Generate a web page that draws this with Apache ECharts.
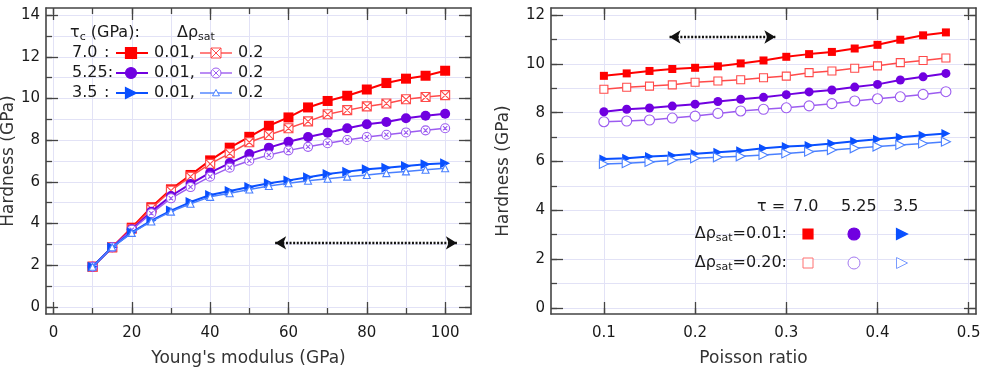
<!DOCTYPE html>
<html>
<head>
<meta charset="utf-8">
<script src="https://cdn.jsdelivr.net/npm/echarts@6/dist/echarts.min.js"></script>
<style>
html, body { margin: 0; padding: 0; background: #fff; }
#chart { width: 987px; height: 374px; }
</style>
</head>
<body>
<div id="chart"></div>
<script>
// ---- left panel: hardness vs Young's modulus ----
var youngModulus = [10, 15, 20, 25, 30, 35, 40, 45, 50, 55, 60, 65, 70, 75, 80, 85, 90, 95, 100];
var hardY_70_001  = [1.93, 2.86, 3.80, 4.78, 5.64, 6.33, 7.03, 7.64, 8.16, 8.69, 9.09, 9.57, 9.88, 10.13, 10.43, 10.74, 10.95, 11.09, 11.33];
var hardY_70_020  = [1.93, 2.86, 3.75, 4.72, 5.58, 6.25, 6.86, 7.37, 7.90, 8.25, 8.57, 8.90, 9.24, 9.44, 9.62, 9.76, 9.96, 10.07, 10.16];
var hardY_525_001 = [1.93, 2.86, 3.72, 4.57, 5.32, 5.90, 6.44, 6.90, 7.33, 7.64, 7.92, 8.15, 8.36, 8.57, 8.76, 8.87, 9.05, 9.17, 9.27];
var hardY_525_020 = [1.93, 2.86, 3.70, 4.49, 5.21, 5.75, 6.25, 6.68, 7.01, 7.29, 7.51, 7.68, 7.85, 8.01, 8.15, 8.26, 8.37, 8.47, 8.57];
var hardY_35_001  = [1.93, 2.86, 3.58, 4.14, 4.62, 5.03, 5.37, 5.56, 5.75, 5.93, 6.07, 6.22, 6.38, 6.49, 6.60, 6.68, 6.76, 6.84, 6.89];
var hardY_35_020  = [1.93, 2.86, 3.55, 4.10, 4.57, 4.95, 5.28, 5.45, 5.63, 5.80, 5.93, 6.05, 6.15, 6.25, 6.33, 6.42, 6.50, 6.58, 6.65];

// ---- right panel: hardness vs Poisson ratio ----
var poissonRatio = [0.1, 0.125, 0.15, 0.175, 0.2, 0.225, 0.25, 0.275, 0.3, 0.325, 0.35, 0.375, 0.4, 0.425, 0.45, 0.475];
var hardP_70_001  = [9.51, 9.61, 9.71, 9.79, 9.84, 9.90, 10.02, 10.14, 10.29, 10.40, 10.49, 10.63, 10.78, 10.99, 11.17, 11.29];
var hardP_70_020  = [8.96, 9.04, 9.09, 9.14, 9.25, 9.30, 9.35, 9.43, 9.50, 9.64, 9.71, 9.82, 9.92, 10.05, 10.14, 10.24];
var hardP_525_001 = [8.04, 8.14, 8.19, 8.27, 8.35, 8.46, 8.55, 8.63, 8.74, 8.85, 8.93, 9.05, 9.16, 9.34, 9.47, 9.61];
var hardP_525_020 = [7.63, 7.66, 7.70, 7.78, 7.86, 7.97, 8.07, 8.14, 8.20, 8.28, 8.37, 8.48, 8.57, 8.65, 8.75, 8.86];
var hardP_35_001  = [6.10, 6.13, 6.20, 6.25, 6.32, 6.38, 6.44, 6.54, 6.61, 6.66, 6.74, 6.83, 6.91, 6.99, 7.08, 7.15];
var hardP_35_020  = [5.90, 5.93, 5.98, 6.05, 6.13, 6.17, 6.21, 6.27, 6.33, 6.40, 6.47, 6.54, 6.61, 6.68, 6.74, 6.81];

// ticks and labels
var leftXTicks  = [0, 10, 20, 30, 40, 50, 60, 70, 80, 90, 100];
var leftXLabels = [0, 20, 40, 60, 80, 100];
var leftYTicks  = [0, 1, 2, 3, 4, 5, 6, 7, 8, 9, 10, 11, 12, 13, 14];
var leftYLabels = [0, 2, 4, 6, 8, 10, 12, 14];
var rightXTicks  = [0.1, 0.2, 0.3, 0.4, 0.5];
var rightXLabels = [0.1, 0.2, 0.3, 0.4, 0.5];
var rightYTicks  = [0, 1, 2, 3, 4, 5, 6, 7, 8, 9, 10, 11, 12];
var rightYLabels = [0, 2, 4, 6, 8, 10, 12];

// dotted double arrows (data coords)
var leftArrow  = [[56.6, 3.07], [103, 3.07]];
var rightArrow = [[0.172, 11.1], [0.288, 11.1]];

var FONT = 'DejaVu Sans';
var TXT = '#1a1a1a';
var FRAME = '#444';
var GRIDC = '#e2e2f6';
var RED = '#ff0000', RED_L = '#ff4a4a';
var PUR = '#7000e0', PUR_L = '#9c5cf0';
var BLU = '#0a50ff', BLU_L = '#4a80ff';

var SYM_XSQUARE = 'path://M0,0L10,0L10,10L0,10Z M0,0L10,10 M10,0L0,10';
var SYM_XCIRCLE = 'path://M10,5A5,5,0,1,1,0,5A5,5,0,1,1,10,5Z M2.6,2.6L7.4,7.4 M7.4,2.6L2.6,7.4';
var SYM_TRIR = 'path://M0,0L10,5L0,10Z';

function axisSet(dim, grid, min, max, ticks, labels, splitN, name, nameGap, namePad) {
  var pos = dim === 'x' ? ['bottom', 'top'] : ['left', 'right'];
  var line = { show: true, onZero: false, lineStyle: { color: FRAME, width: 1.6 } };
  var noLine = { show: false, onZero: false };
  var base = { type: 'value', gridIndex: grid, min: min, max: max, splitLine: { show: false } };
  var main = Object.assign({}, base, {
    position: pos[0], axisLine: line,
    axisTick: { inside: true, length: 12, customValues: labels, lineStyle: { color: FRAME, width: 1.3 } },
    axisLabel: { customValues: labels, margin: dim === 'x' ? 12 : 6, fontSize: 15, color: TXT, fontFamily: FONT },
    name: name, nameLocation: 'middle', nameGap: nameGap,
    nameTextStyle: { fontSize: 17, color: '#333', fontFamily: FONT, padding: namePad || 0 }
  });
  var mirror = Object.assign({}, base, {
    position: pos[1], axisLine: line,
    axisTick: { inside: true, length: 12, customValues: labels, lineStyle: { color: FRAME, width: 1.3 } },
    axisLabel: { show: false }
  });
  // short ticks + light grid lines
  var minorA = Object.assign({}, base, {
    position: pos[0], axisLine: noLine, splitNumber: splitN,
    axisTick: { inside: true, length: 6, customValues: ticks, lineStyle: { color: FRAME, width: 1.3 } },
    axisLabel: { show: false },
    splitLine: { show: true, lineStyle: { color: GRIDC, width: 1 } }
  });
  var minorB = Object.assign({}, base, {
    position: pos[1], axisLine: noLine,
    axisTick: { inside: true, length: 6, customValues: ticks, lineStyle: { color: FRAME, width: 1.3 } },
    axisLabel: { show: false }
  });
  return [main, mirror, minorA, minorB];
}

function lineSeries(name, xs, ys, axisIdx, sym, size, color, lineColor, lineW, filled, z) {
  return {
    name: name, type: 'line', xAxisIndex: axisIdx, yAxisIndex: axisIdx,
    data: xs.map(function (x, i) { return [x, ys[i]]; }),
    symbol: sym, symbolSize: size, showSymbol: true, showAllSymbol: true,
    lineStyle: { color: lineColor, width: lineW },
    itemStyle: filled ? { color: color } : { color: '#fff', borderColor: color, borderWidth: 1.1 },
    animation: false, silent: true, z: z
  };
}

function arrowLine(pts) {
  return {
    silent: true, animation: false,
    symbol: ['arrow', 'arrow'], symbolSize: [10, 11],
    label: { show: false },
    lineStyle: { color: '#111', type: [2, 1.6], width: 2.4 },
    data: [[{ coord: pts[0] }, { coord: pts[1] }]]
  };
}

// legend helpers (graphic)
function mark(kind, cx, cy, s, color, filled, lw) {
  var h = s / 2;
  var st = { fill: filled ? color : '#fff', stroke: color, lineWidth: lw || 1.2 };
  var ls = { stroke: color, lineWidth: lw || 1.1 };
  var d = h * 0.55;
  if (kind === 'square') return [{ type: 'rect', shape: { x: cx - h, y: cy - h, width: s, height: s }, style: st, z: 100 }];
  if (kind === 'xsquare') return [
    { type: 'rect', shape: { x: cx - h, y: cy - h, width: s, height: s }, style: st, z: 100 },
    { type: 'line', shape: { x1: cx - h, y1: cy - h, x2: cx + h, y2: cy + h }, style: ls, z: 101 },
    { type: 'line', shape: { x1: cx + h, y1: cy - h, x2: cx - h, y2: cy + h }, style: ls, z: 101 }];
  if (kind === 'circle') return [{ type: 'circle', shape: { cx: cx, cy: cy, r: h }, style: st, z: 100 }];
  if (kind === 'xcircle') return [
    { type: 'circle', shape: { cx: cx, cy: cy, r: h }, style: st, z: 100 },
    { type: 'line', shape: { x1: cx - d, y1: cy - d, x2: cx + d, y2: cy + d }, style: ls, z: 101 },
    { type: 'line', shape: { x1: cx + d, y1: cy - d, x2: cx - d, y2: cy + d }, style: ls, z: 101 }];
  if (kind === 'triright') return [{ type: 'polygon', shape: { points: [[cx - h, cy - h], [cx + h, cy], [cx - h, cy + h]] }, style: st, z: 100 }];
  return [{ type: 'polygon', shape: { points: [[cx, cy - h], [cx + h, cy + h * 0.8], [cx - h, cy + h * 0.8]] }, style: st, z: 100 }];
}
function seg(x1, x2, y, color, w) {
  return { type: 'line', shape: { x1: x1, y1: y, x2: x2, y2: y }, style: { stroke: color, lineWidth: w }, z: 99 };
}
var RICH = {
  sub: { fontSize: 11, fontFamily: FONT, fill: TXT, verticalAlign: 'bottom', lineHeight: 9 },
  m: { fontSize: 16, fontFamily: FONT, fill: TXT, lineHeight: 20 }
};
function txt(x, y, text, align) {
  return { type: 'text', x: x, y: y, z: 100,
    style: { text: text, fill: TXT, fontSize: 16, fontFamily: FONT, align: align || 'left', verticalAlign: 'middle', rich: RICH } };
}

var graphics = [];
// left legend
graphics.push(txt(70, 33, '{m|τ}{sub|c}{m| (GPa):}'));
graphics.push(txt(177, 33, '{m|Δρ}{sub|sat}'));
var legRows = [
  { y: 53, lab: '7.0', colon: true, c: RED, cl: RED_L, k1: 'square', k2: 'xsquare', s2: 10 },
  { y: 73, lab: '5.25:', colon: false, c: PUR, cl: PUR_L, k1: 'circle', k2: 'xcircle', s2: 10 },
  { y: 93, lab: '3.5', colon: true, c: BLU, cl: BLU_L, k1: 'triright', k2: 'triup', s2: 7 }
];
legRows.forEach(function (r) {
  graphics.push(txt(72, r.y, r.lab));
  if (r.colon) graphics.push(txt(104, r.y, ':'));
  graphics.push(seg(116, 148, r.y, r.c, 2));
  graphics = graphics.concat(mark(r.k1, 131, r.y, 11, r.c, true));
  graphics.push(txt(154, r.y, '0.01,'));
  graphics.push(seg(200, 232, r.y, r.cl, 1.4));
  graphics = graphics.concat(mark(r.k2, 216, r.y, r.s2, r.cl, false, 1));
  graphics.push(txt(238, r.y, '0.2'));
});
// right legend
graphics.push(txt(757, 207, 'τ ='));
graphics.push(txt(793, 207, '7.0'));
graphics.push(txt(841, 207, '5.25'));
graphics.push(txt(893, 207, '3.5'));
graphics.push(txt(787, 234, '{m|Δρ}{sub|sat}{m|=0.01:}', 'right'));
graphics.push(txt(787, 263, '{m|Δρ}{sub|sat}{m|=0.20:}', 'right'));
graphics = graphics.concat(mark('square', 808, 234, 10, RED, true));
graphics = graphics.concat(mark('circle', 854, 234, 12, PUR, true));
graphics = graphics.concat(mark('triright', 902, 234, 11, BLU, true));
graphics = graphics.concat(mark('square', 808, 263, 10, '#ff7070', false, 1));
graphics = graphics.concat(mark('circle', 854, 263, 12, '#a47af0', false, 1));
graphics = graphics.concat(mark('triright', 902, 263, 11, '#7a9cff', false, 1));

var xAxes = axisSet('x', 0, -1.9, 106.6, leftXTicks, leftXLabels, 5, "Young's modulus (GPa)", 36, [0, 20, 0, 0])
  .concat(axisSet('x', 1, 0.042, 0.508, rightXTicks, rightXLabels, 5, 'Poisson ratio', 36, [0, 20, 0, 0]));
var yAxes = axisSet('y', 0, -0.34, 14.34, leftYTicks, leftYLabels, 7, 'Hardness (GPa)', 24, 0)
  .concat(axisSet('y', 1, -0.25, 12.29, rightYTicks, rightYLabels, 6, 'Hardness (GPa)', 39, [0, 20, 0, 0]));

var series = [
  lineSeries('L 7.0 0.01', youngModulus, hardY_70_001, 0, 'rect', 10, RED, RED, 2, true, 2),
  lineSeries('L 7.0 0.2', youngModulus, hardY_70_020, 0, SYM_XSQUARE, 9, RED_L, RED_L, 1.5, false, 3),
  lineSeries('L 5.25 0.01', youngModulus, hardY_525_001, 0, 'circle', 10, PUR, PUR, 2, true, 4),
  lineSeries('L 5.25 0.2', youngModulus, hardY_525_020, 0, SYM_XCIRCLE, 9, PUR_L, PUR_L, 1.5, false, 5),
  lineSeries('L 3.5 0.01', youngModulus, hardY_35_001, 0, SYM_TRIR, 10, BLU, BLU, 2, true, 6),
  lineSeries('L 3.5 0.2', youngModulus, hardY_35_020, 0, 'triangle', 7, BLU_L, BLU_L, 1.5, false, 7),
  lineSeries('R 7.0 0.01', poissonRatio, hardP_70_001, 4, 'rect', 8, RED, RED, 2, true, 2),
  lineSeries('R 7.0 0.2', poissonRatio, hardP_70_020, 4, 'rect', 8, RED_L, RED_L, 1.5, false, 3),
  lineSeries('R 5.25 0.01', poissonRatio, hardP_525_001, 4, 'circle', 9, PUR, PUR, 2, true, 4),
  lineSeries('R 5.25 0.2', poissonRatio, hardP_525_020, 4, 'circle', 10, PUR_L, PUR_L, 1.5, false, 5),
  lineSeries('R 3.5 0.01', poissonRatio, hardP_35_001, 4, SYM_TRIR, 9, BLU, BLU, 2, true, 6),
  lineSeries('R 3.5 0.2', poissonRatio, hardP_35_020, 4, SYM_TRIR, 9, BLU_L, BLU_L, 1.5, false, 7)
];
series[0].markLine = arrowLine(leftArrow);
series[6].markLine = arrowLine(rightArrow);

var chart = echarts.init(document.getElementById('chart'), null, { renderer: 'canvas' });
chart.setOption({
  animation: false,
  backgroundColor: '#fff',
  textStyle: { fontFamily: FONT },
  grid: [
    { left: 46, top: 8, width: 425, height: 306, outerBoundsMode: 'none' },
    { left: 551, top: 8, width: 425, height: 306, outerBoundsMode: 'none' }
  ],
  xAxis: xAxes,
  yAxis: yAxes,
  series: series,
  graphic: graphics
});
</script>
</body>
</html>
